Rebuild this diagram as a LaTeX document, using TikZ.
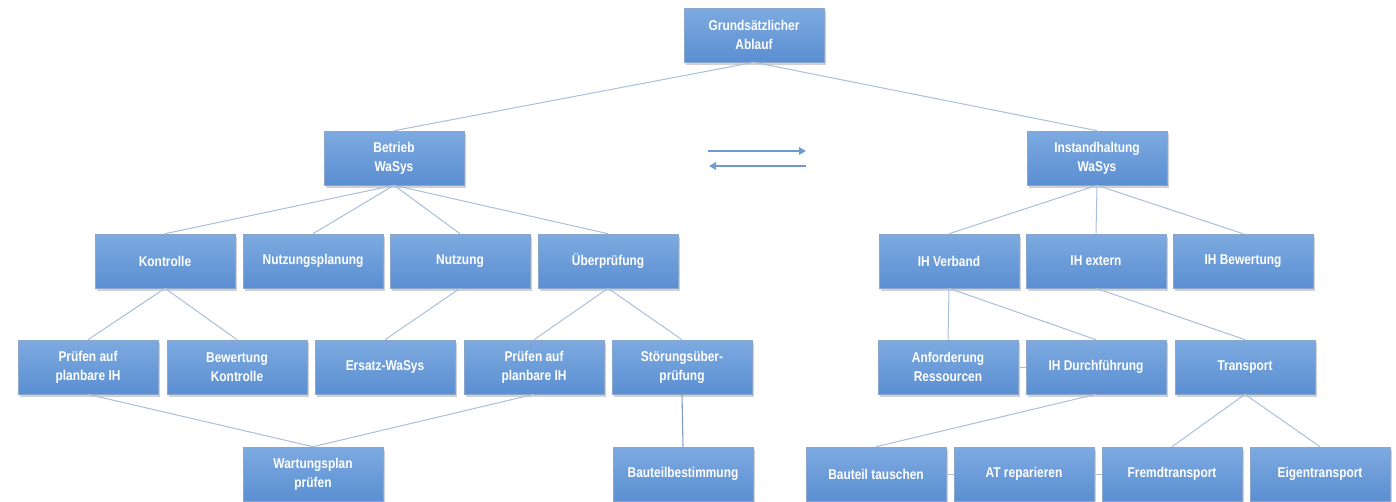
\documentclass[tikz,border=0pt]{standalone}
\usepackage{fontspec}
\newfontfamily\boxfont[FakeStretch=0.84]{Liberation Sans}
\usetikzlibrary{shadows,arrows.meta}
\definecolor{boxtop}{HTML}{7DAAE0}
\definecolor{boxbot}{HTML}{5B8FD2}
\definecolor{boxline}{HTML}{8AA6CB}
\definecolor{conn}{HTML}{A8BFDC}
\definecolor{connd}{HTML}{7F9BBF}
\definecolor{arr}{HTML}{6E9BD2}
\tikzset{
  box/.style={rectangle, draw=boxline, line width=0.6pt,
    top color=boxtop, bottom color=boxbot,
    minimum width=140pt, minimum height=54pt, inner sep=2pt,
    align=center, text=white, font=\boxfont\bfseries\fontsize{14.2}{19}\selectfont,
    drop shadow={shadow xshift=2pt, shadow yshift=-2.5pt, opacity=0.3, fill=black!60}},
  link/.style={draw=conn, line width=1pt},
  linkd/.style={draw=connd, line width=1.1pt},
  swap/.style={draw=arr, line width=2.4pt, -{Triangle[length=7pt,width=7.5pt]}}
}
\begin{document}
\begin{tikzpicture}[x=1pt,y=-1pt]
\useasboundingbox (0,0) rectangle (1396,501);

% top level
\node[box] (root) at (754,35) {Grundsätzlicher\\Ablauf};
\node[box] (betr) at (394,158) {Betrieb\\WaSys};
\node[box] (inst) at (1097,158) {Instandhaltung\\WaSys};

% exchange arrows between the two branches
\coordinate (ar1) at (708,151);
\coordinate (ar2) at (806,151);
\coordinate (al1) at (806,166);
\coordinate (al2) at (709,166);
\draw[swap] (ar1) -- (ar2);
\draw[swap] (al1) -- (al2);

% second level
\node[box] (kont) at (165,261) {Kontrolle};
\node[box] (nplan) at (313,261) {Nutzungsplanung};
\node[box] (nutz) at (460,261) {Nutzung};
\node[box] (uebp) at (608,261) {Überprüfung};
\node[box] (ihv) at (949,261) {IH Verband};
\node[box] (ihe) at (1096,261) {IH extern};
\node[box] (ihb) at (1243,261) {IH Bewertung};

% third level
\node[box] (pr1) at (88,367) {Prüfen auf\\planbare IH};
\node[box] (bewk) at (237,367) {Bewertung\\Kontrolle};
\node[box] (ers) at (385,367) {Ersatz-WaSys};
\node[box] (pr2) at (534,367) {Prüfen auf\\planbare IH};
\node[box] (stoe) at (682,367) {Störungsüber-\\prüfung};
\node[box] (anf) at (948,367) {Anforderung\\Ressourcen};
\node[box] (ihd) at (1096,367) {IH Durchführung};
\node[box] (trans) at (1245,367) {Transport};

% fourth level
\node[box] (wart) at (313,474) {Wartungsplan\\prüfen};
\node[box] (btb) at (683,474) {Bauteilbestimmung};
\node[box] (btt) at (876,474) {Bauteil tauschen};
\node[box] (atr) at (1024,474) {AT reparieren};
\node[box] (fremd) at (1172,474) {Fremdtransport};
\node[box] (eigen) at (1320,474) {Eigentransport};

% connectors
\path[link] (root.south) -- (betr.north);
\path[link] (root.south) -- (inst.north);
\path[link] (betr.south) -- (kont.north);
\path[link] (betr.south) -- (nplan.north);
\path[link] (betr.south) -- (nutz.north);
\path[link] (betr.south) -- (uebp.north);
\path[link] (inst.south) -- (ihv.north);
\path[link] (inst.south) -- (ihe.north);
\path[link] (inst.south) -- (ihb.north);
\path[link] (kont.south) -- (pr1.north);
\path[link] (kont.south) -- (bewk.north);
\path[link] (nutz.south) -- (ers.north);
\path[link] (uebp.south) -- (pr2.north);
\path[link] (uebp.south) -- (stoe.north);
\path[link] (pr1.south) -- (wart.north);
\path[link] (pr2.south) -- (wart.north);
\path[linkd] (stoe.south) -- (btb.north);
\path[link] (ihv.south) -- (anf.north);
\path[link] (ihv.south) -- (ihd.north);
\path[link] (ihe.south) -- (trans.north);
\path[link] (anf.east) -- (ihd.west);
\path[link] (ihd.south) -- (btt.north);
\path[link] (btt.east) -- (atr.west);
\path[link] (atr.east) -- (fremd.west);
\path[link] (trans.south) -- (fremd.north);
\path[link] (trans.south) -- (eigen.north);
\end{tikzpicture}
\end{document}
